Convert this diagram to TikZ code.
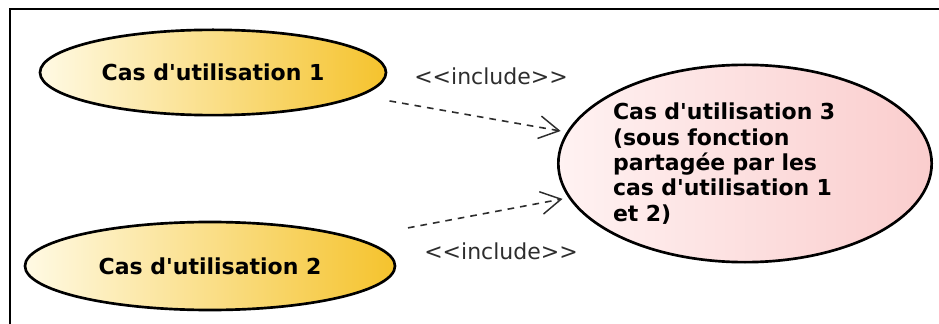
\documentclass[tikz,border=0pt]{standalone}
\usepackage{fontspec}
\setmainfont{DejaVu Sans}[Ligatures=TeXOff]
\usepackage{xcolor}
\usetikzlibrary{shapes.geometric,arrows.meta}

\definecolor{ucyellow}{RGB}{245,195,45}
\definecolor{ucyellowlt}{RGB}{255,250,228}
\definecolor{ucpink}{RGB}{250,205,205}
\definecolor{ucpinklt}{RGB}{255,242,242}
\definecolor{incgray}{RGB}{45,45,45}

\begin{document}
\begin{tikzpicture}[x=0.75pt,y=0.75pt,yscale=-1,xscale=1,
  usecase/.style={ellipse, draw, line width=2pt, inner sep=0pt,
    font=\bfseries\fontsize{16.5}{19}\selectfont},
  incl/.style={draw=incgray, line width=1.2pt, dash pattern=on 5pt off 4.5pt,
    shorten >=4.5pt, -{Straight Barb[length=15pt,width=17pt,line width=1.1pt]}},
  incllabel/.style={text=incgray, font=\fontsize{16.5}{19}\selectfont}]
\useasboundingbox (0,0) rectangle (939,324);

%Frame (left and top edges)
\draw [line width=1.5pt] (10,324) -- (10,9) -- (939,9) ;

%Use cases
\node [usecase, left color=ucyellowlt, right color=ucyellow,
  minimum width=259.5pt, minimum height=64pt] (uc1) at (213,72.5) {Cas d'utilisation 1};
\node [usecase, left color=ucyellowlt, right color=ucyellow,
  minimum width=277.5pt, minimum height=66pt] (uc2) at (210,266) {Cas d'utilisation 2};
\node [usecase, left color=ucpinklt, right color=ucpink,
  minimum width=279pt, minimum height=148pt, text width=198pt, align=left]
  (uc3) at (745,163.5) {Cas d'utilisation 3\\(sous fonction\\partagée par les\\cas d'utilisation 1\\et 2)};

%Include relations
\draw [incl, shorten <=22pt] (uc1.-9) -- (uc3.170) ;
\draw [incl, shorten <=40pt] (uc2.11) -- (uc3.191) ;

% Text Node
\node [incllabel] (lbl1) at (491,76) {<<include>>};
% Text Node
\node [incllabel] (lbl2) at (501,251) {<<include>>};

\end{tikzpicture}
\end{document}
